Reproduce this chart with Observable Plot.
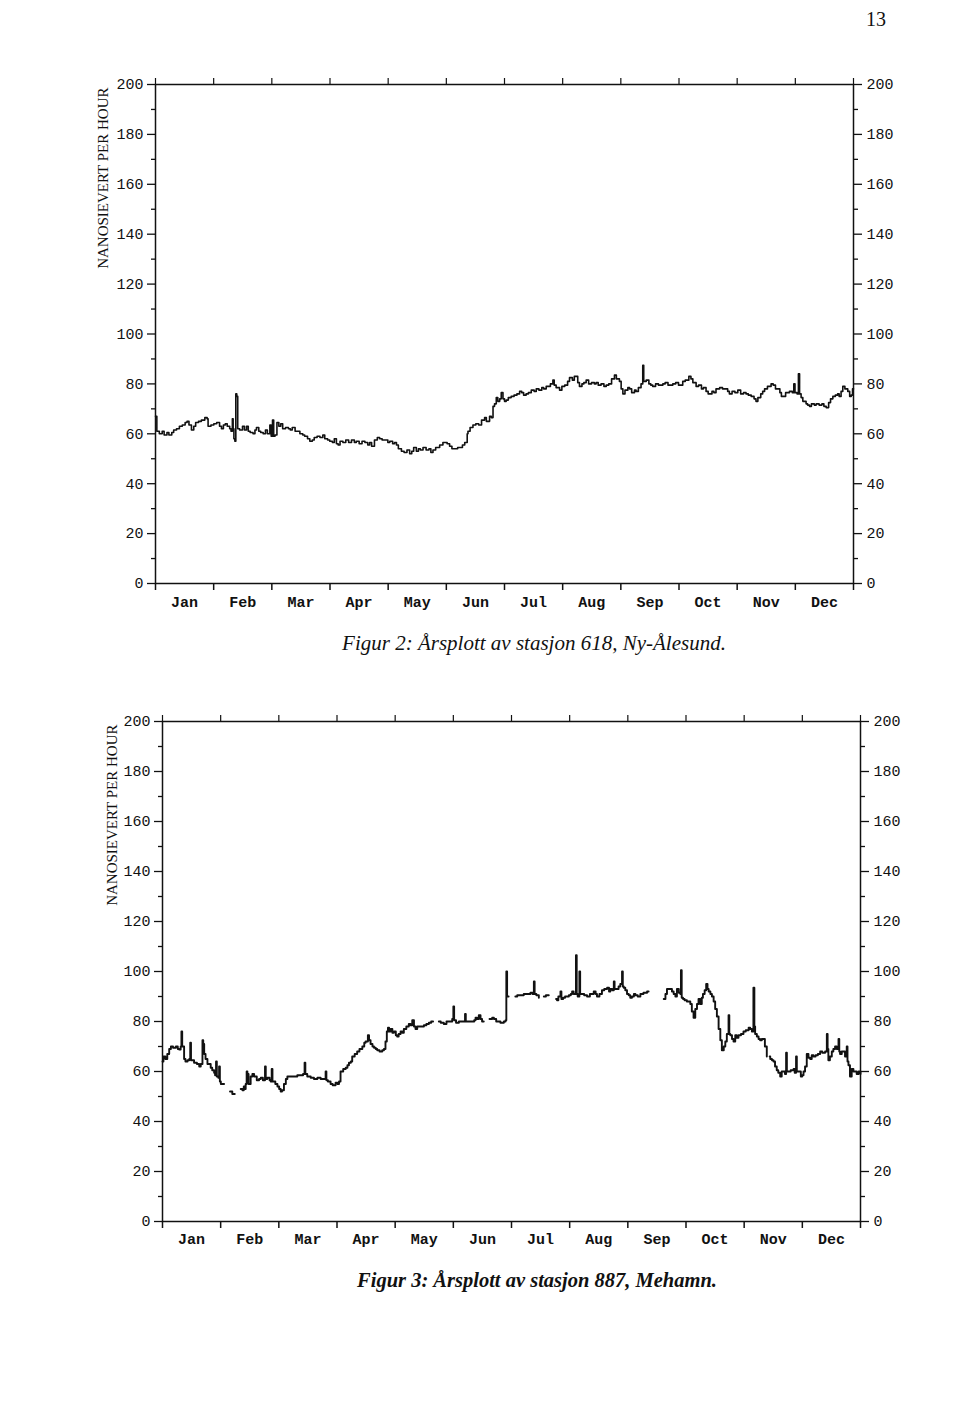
<!DOCTYPE html>
<html>
<head>
<meta charset="utf-8">
<script src="https://cdn.jsdelivr.net/npm/d3@7"></script>
<script src="https://cdn.jsdelivr.net/npm/@observablehq/plot@0.6"></script>
<style>
  html, body { margin: 0; padding: 0; background: #fff; }
  #page { position: relative; width: 960px; height: 1419px; background: #fff; overflow: hidden; }
  .abs { position: absolute; }
  .pageno { left: 840px; top: 8px; width: 46px; text-align: right; font-family: "Liberation Serif", serif; font-size: 20px; color: #111; }
  .cap { left: 0; width: 1068px; text-align: center; font-family: "Liberation Serif", serif; font-style: italic; font-size: 21px; color: #111; }
</style>
</head>
<body>
<div id="page">
  <div class="abs pageno">13</div>
  <div id="c618" class="abs" style="left:0;top:40px"></div>
  <div class="abs cap" style="top:631px">Figur 2: Årsplott av stasjon 618, Ny-Ålesund.</div>
  <div id="c887" class="abs" style="left:0;top:680px"></div>
  <div class="abs cap" style="top:1269px;font-weight:600;font-size:20.5px;width:1074px">Figur 3: Årsplott av stasjon 887, Mehamn.</div>
</div>
<script>
// Month labels (x axis uses 12 equal-width months, day 0..365)
const months = ["Jan","Feb","Mar","Apr","May","Jun","Jul","Aug","Sep","Oct","Nov","Dec"];
const yMajor = [0,20,40,60,80,100,120,140,160,180,200];
const yMinor = [10,30,50,70,90,110,130,150,170,190];
const yLabel = "NANOSIEVERT PER HOUR";

// Station 618, Ny-Ålesund: [day, nanosievert per hour]
const station618 = [
[0,67],[0.7,61],[2,60],[3.5,61],[4.5,59.5],[6,60.5],[7,59.5],[8.5,60.5],[9.5,61.5],[11,62],[12.5,63],[14,63.5],[15.5,64.5],[16.5,65],[17.5,63.5],[18.8,61.5],[20,63],[21,64.5],[22.5,65],[24,65.5],[25.8,66.5],[27,66],[27.5,63],[29,63.5],[30.5,64],[32,64.5],[33.5,63],[34.5,62],[35.5,63.5],[36.5,64],[37.5,63],[38.8,62],[39.5,61],[40.2,66],[40.6,62],[41,58],[41.5,57],[42,76],[42.5,75],[43,62],[44,61.5],[45.5,63],[46.5,61.5],[47.6,63],[48.5,61],[49.5,60.5],[51,60],[52,61.5],[52.8,62.5],[54,61],[55,60.5],[56.3,60],[57.5,61.5],[58.5,60],[59.8,63.5],[60.5,59],[61.2,65.5],[61.8,59],[62.5,59.5],[63.5,64.5],[64.5,63],[65.5,64],[66.5,62],[68,62.5],[69.5,62],[70.5,61.5],[71.5,62.5],[73,61],[74.5,61],[75.5,60],[77,59.5],[78,59],[79.5,58],[80.7,57],[82,57.5],[83,58.5],[84.5,59],[86,58.5],[87.5,59.5],[88.5,58],[90,57.5],[91.1,57],[92.5,56.5],[93.5,58],[94.6,56],[95.5,55.5],[96.5,57],[98,56.5],[99.5,57.5],[101,56.5],[102.5,57.5],[104,56.5],[105,57],[106.5,56],[108,57],[109.5,56.5],[111,55.5],[112,56.5],[113,55],[114.5,57.5],[116,58.5],[117.2,58],[118.5,57.5],[120,57.5],[121.5,56.5],[122.5,57],[124,56],[125,56.5],[126,55.5],[127,54],[128.6,53],[130,52.5],[131.5,53.5],[132.9,52],[134,53],[135,54.5],[136.4,53],[137.5,54],[138.5,53.5],[139.9,54.5],[141.5,53.5],[143,54],[144,52.5],[145.1,53.5],[146.5,54.5],[148.6,55.5],[150.3,56.5],[151.5,56.5],[152.5,56],[153.8,55],[155,54],[156.5,54],[158,54.5],[159,54.5],[160.5,55.5],[161.7,56.5],[163,60],[163.4,61],[164.5,62.5],[166,63.5],[167.5,64],[169,63.5],[170.5,65.5],[172.1,66.5],[173,65],[174.7,67],[175.6,66.5],[176.5,71],[177.3,72],[178.2,74.5],[179,73],[180,74],[180.8,76.5],[181.7,74],[182.5,73],[183.4,73.5],[184.5,74.5],[186,75],[187.5,75.5],[189,76],[190.4,77],[191.5,76.5],[192.5,75.5],[193.8,76],[195,76.5],[196.5,77.5],[198,77],[199.1,78],[200.5,77.5],[202,78.5],[203,78],[204.3,79],[205.5,79],[206.5,80],[207.8,81.5],[208.5,79.5],[209.5,78.5],[211.3,77.5],[212.5,79],[214,79.5],[215.5,81],[216.5,82.5],[218,81.5],[219,83],[220,83],[220.8,80.5],[221.7,79],[223,80],[224,80.5],[225.2,81.5],[226.5,80],[228,80.5],[229.5,80],[230.4,80.5],[231.5,79.5],[233,80],[234.5,79],[235.7,79.5],[237,80],[238.5,82],[240,83.5],[241,82],[242.6,81],[243.5,78],[244.4,76],[245.5,77.5],[247,78.5],[247.9,78],[249,76.5],[250.5,77.5],[251.3,77],[252.5,78.5],[253.9,80],[254.8,87.5],[255.3,81],[256.6,81.5],[258,80],[259,79.5],[260,79],[261.5,80],[263,79.5],[265.3,80],[266.5,80.5],[268,79.5],[270.5,80],[272,80.5],[273.5,79.5],[275.7,81],[277,81.5],[278.9,83],[280,82],[281,80.5],[282.7,79],[284,79.5],[285.5,78],[286.5,78.5],[287.9,77],[289,76],[289.7,76],[291,77],[292,76.5],[293.1,78],[295,78.5],[296.5,78],[298.4,78],[299.2,77],[300.1,76],[301.5,77],[303,76.5],[304.5,77.5],[306,76],[307.5,76.5],[308.8,76],[310,75.5],[311.5,75],[313,74],[314,73],[315,74.5],[316.5,76],[317.5,77],[318.5,78],[320,79],[321.9,80],[323,79.5],[324.2,78],[325.4,78],[326.5,76.5],[327.3,75],[328,75],[329.5,76.5],[331.5,77],[333,76.5],[333.8,80],[334.4,76.5],[335.5,76],[336.2,84],[336.8,76],[337.6,74.5],[338.5,73],[340.2,72],[341,71.5],[342,71],[343,72],[344.5,71.5],[345.5,72],[347,71.5],[348.5,72],[349.5,71],[350.7,70.5],[352,72.5],[353,74],[354.2,75],[355.5,75.5],[356.7,76],[357.5,75],[358.5,77],[359.4,79],[360.5,78],[362,77],[363,75],[363.8,75.5],[364.5,78],[365,78]
];

// Station 887, Mehamn: [day, nanosievert per hour]; null = missing data
const station887 = [
[0,64],[0.5,66],[1.5,65],[2.5,67],[3.5,69],[4.4,70],[5.5,69.5],[7,70],[8,69],[8.7,68.8],[9.5,70],[9.9,76],[10.3,70],[11.3,65],[12,64],[13.1,64.5],[14,65],[14.5,71.5],[14.9,64.5],[16.5,63.5],[18,63],[19.2,62],[20,63],[20.9,72.5],[21.3,71],[21.8,67],[22.5,65],[23.5,63],[25.2,61.5],[26,60.5],[27,59.5],[27.5,58.5],[28,64],[28.4,58],[29.2,57.5],[29.6,62],[30,56],[30.5,55],[32.2,55],[32.6,null],[35.3,52],[36.5,51],[37.8,51],[38,null],[40.9,53],[41.8,52.5],[42.5,54],[43,53],[43.5,55],[44,60],[44.4,59],[45,55],[46.1,58],[47,59],[47.9,58],[49.3,56.5],[50.5,57],[51.4,57.5],[52.5,56.5],[53.6,62],[54,57],[54.8,57.5],[56,56.5],[56.6,56],[57.1,61],[57.5,56],[58.3,56],[59,55],[60.1,54],[61,53],[61.8,52],[62.5,52.5],[63.5,55],[64.5,57],[65.3,58],[67,58],[68.8,58],[70.5,58.5],[72.3,58.5],[73.5,59],[74.3,63.5],[74.7,59],[75.7,58],[77.5,57.5],[79.2,57],[81,57.5],[82.7,57],[84,57],[85.3,60],[85.7,56.5],[86.5,56],[87.9,55],[89,54.5],[90.5,55.5],[91.5,55],[92.3,56],[93.1,60],[94.5,61],[95.8,61.5],[96.7,62.5],[97.5,63.5],[98.5,64],[99.2,66],[100.5,67],[101.8,68],[103,69],[104.5,70],[105.5,71.5],[106.2,72],[107.4,74.5],[108,72.5],[108.8,71],[109.8,70],[110.6,69.5],[111.5,69],[112.3,68.5],[113.5,68],[114.9,68.5],[115.8,69],[116.6,72],[117.3,76],[117.9,77.5],[118.5,76],[119.3,77],[120.2,75.5],[121,76],[122,74.5],[122.7,74],[123.5,75],[124.5,76],[125.4,75.5],[126.2,77],[127.5,78],[128.8,79],[129.7,78.5],[130.6,80.5],[131.5,78],[132.3,77],[133.2,78],[135,78],[136.7,78.5],[138,79],[139.3,79.5],[140.5,80],[141.5,80],[142,null],[144.5,80],[145.5,79.5],[147.1,79],[148.5,80],[149.7,80],[151.5,81],[152.1,86],[152.5,80.5],[153.5,79.5],[155,80],[155.8,80],[157,80],[158.2,83],[158.6,80],[160,80],[161.9,80],[163,80.5],[163.7,81.5],[164.5,81],[165.4,82.5],[166.3,81],[167.1,80],[168,80],[168.5,null],[171,81],[172.4,81.5],[173.3,81],[174.5,80],[175.5,80],[176.7,79.5],[178.5,80],[179.4,80.5],[179.8,100],[180.2,90],[181,90],[181.5,null],[184.5,90],[185.5,90.5],[187,90.5],[188.9,91],[190.5,91],[192.4,91.5],[193.5,91],[194.2,96],[194.6,91],[195.5,90.5],[196.8,89.5],[197.2,null],[199.4,90],[200.5,90.5],[202,90.5],[202.3,null],[205.8,89],[206.3,88.5],[207,90],[208.1,92],[208.6,89],[209.5,89.5],[210.5,90],[211.6,90],[212.5,90.5],[213.5,91],[214.2,92],[215,91],[216.2,106.5],[216.6,91],[217.1,90],[218,100],[218.4,91],[219.4,91],[220.5,90.5],[222,90],[223.5,91],[225.5,92],[226.5,91],[227.2,90],[228.5,91],[229.8,92.5],[231,93],[232.5,93.5],[233.5,92],[234.2,93],[235.2,92.5],[236,96],[236.4,93],[237.7,93],[238.5,94],[239.4,95],[240.3,100],[240.7,94],[241.2,93.5],[242,92.5],[242.9,91],[243.8,90.5],[244.6,89.5],[245.5,90],[246.5,91],[247.3,90.5],[248.5,90],[249.9,91],[251.5,91.5],[253.4,92],[254.2,92],[254.5,null],[262.1,89],[263,91],[263.8,93],[265,93],[266.4,92],[267.3,91],[268.2,90],[269,93],[270,91.5],[270.8,91],[271.1,100.5],[271.5,89.5],[272.2,89],[273,88.5],[274.2,88],[275,88],[276,87],[276.8,84],[277.7,81.5],[278.6,85],[279.5,87],[280.3,89],[281.2,87],[282,89.5],[282.6,91],[283.5,92.5],[284.3,95],[285,93],[285.6,92],[286.5,91],[287.3,90],[288.2,88],[289,85],[289.9,82],[290.8,77],[291.7,72.5],[292.5,68.5],[293.5,70],[294.3,72],[295.1,75],[296,82.5],[296.4,75],[296.9,74.5],[297.8,73],[298.6,72],[299.5,74.5],[300.3,73.5],[301.2,74.5],[302.5,75],[303.8,76],[305,76.5],[306.5,77.5],[307.3,77],[308.2,76],[309,93.5],[309.5,78],[309.9,75],[310.8,74],[311.7,73],[312.5,72.5],[313.4,73],[314.3,73],[315,70],[316,66],[316.5,null],[317.5,66],[317.8,65],[318.7,64.5],[319.5,64],[320.3,62],[321.2,60.5],[322,59.5],[323,58],[323.8,60],[324.7,60],[325.5,59],[326.1,67.5],[326.5,60],[327.3,60],[328.5,60.5],[330,61],[330.6,59.5],[331.3,66],[331.7,60],[332.6,60],[333.8,58],[334.5,58.5],[335.2,60],[336,62],[336.9,67],[337.8,65.5],[338.7,65],[339.5,66.5],[340.4,66],[341.5,66.5],[342.7,67],[343.9,68],[345,67.5],[346.5,68],[347.4,75],[347.8,69],[348.2,64.5],[349,66],[350,68],[350.8,69],[351.7,70],[352.6,69],[353.5,73],[353.9,68],[354.3,67],[355.2,68],[356.1,68],[356.9,66],[357.8,70],[358.2,64],[358.7,62.5],[359.5,58],[360.4,61],[361.3,60],[362.2,60],[363,59],[364,60],[365,59]
];

const monthBounds = d3.range(13).map(i => i * 365 / 12);
const monthMids = d3.range(12).map(i => (i + 0.5) * 365 / 12);

function makeChart(series, o) {
  return Plot.plot({
    width: 960,
    height: o.height,
    marginLeft: o.left,
    marginRight: o.right,
    marginTop: o.top,
    marginBottom: o.bottom,
    style: { fontFamily: "'Liberation Mono', monospace", fontSize: "15px", color: "#111", background: "#fff" },
    x: { domain: [0, 365], axis: null },
    y: { domain: [0, 200], axis: null },
    marks: [
      Plot.frame({ stroke: "#111", strokeWidth: 1.5 }),
      // month boundary ticks, bottom & top
      Plot.axisX(monthBounds, { anchor: "bottom", tickSize: 7, tickFormat: () => "", label: null, strokeWidth: 1.5 }),
      Plot.axisX(monthBounds, { anchor: "top", tickSize: 7, tickFormat: () => "", label: null, strokeWidth: 1.2 }),
      // month names
      Plot.axisX(monthMids, { anchor: "bottom", tickSize: 0, tickPadding: o.monthPad, label: null, fontWeight: "bold", fontSize: 15,
        tickFormat: d => months[Math.floor(d / (365 / 12))] }),
      // y axes left and right
      Plot.axisY(yMajor, { anchor: "left", tickSize: 8, tickPadding: 4, label: null, fontSize: 15, strokeWidth: 1.3 }),
      Plot.axisY(yMinor, { anchor: "left", tickSize: 4, tickFormat: () => "", label: null, strokeWidth: 1.3 }),
      Plot.axisY(yMajor, { anchor: "right", tickSize: 8, tickPadding: 5, label: null, fontSize: 15, strokeWidth: 1.3 }),
      Plot.axisY(yMinor, { anchor: "right", tickSize: 4, tickFormat: () => "", label: null, strokeWidth: 1.3 }),
      // rotated y label, top-aligned
      Plot.text([yLabel], { text: d => d, frameAnchor: "top-left", rotate: -90, textAnchor: "end",
        dx: o.labelDx, dy: o.labelDy, fontFamily: "'Liberation Serif', serif", fontSize: 15, fill: "#111" }),
      Plot.line(series, { x: d => d[0], y: d => d[1], curve: "step-after", stroke: "#111", strokeWidth: o.lineWidth })
    ]
  });
}

document.getElementById("c618").append(makeChart(station618, {
  height: 580, left: 155, right: 107, top: 44, bottom: 37, monthPad: 13, labelDx: -58, labelDy: 3, lineWidth: 1.6
}));
document.getElementById("c887").append(makeChart(station887, {
  height: 580, left: 162, right: 100, top: 41, bottom: 39, monthPad: 12, labelDx: -56, labelDy: 3, lineWidth: 1.9
}));
</script>
</body>
</html>
